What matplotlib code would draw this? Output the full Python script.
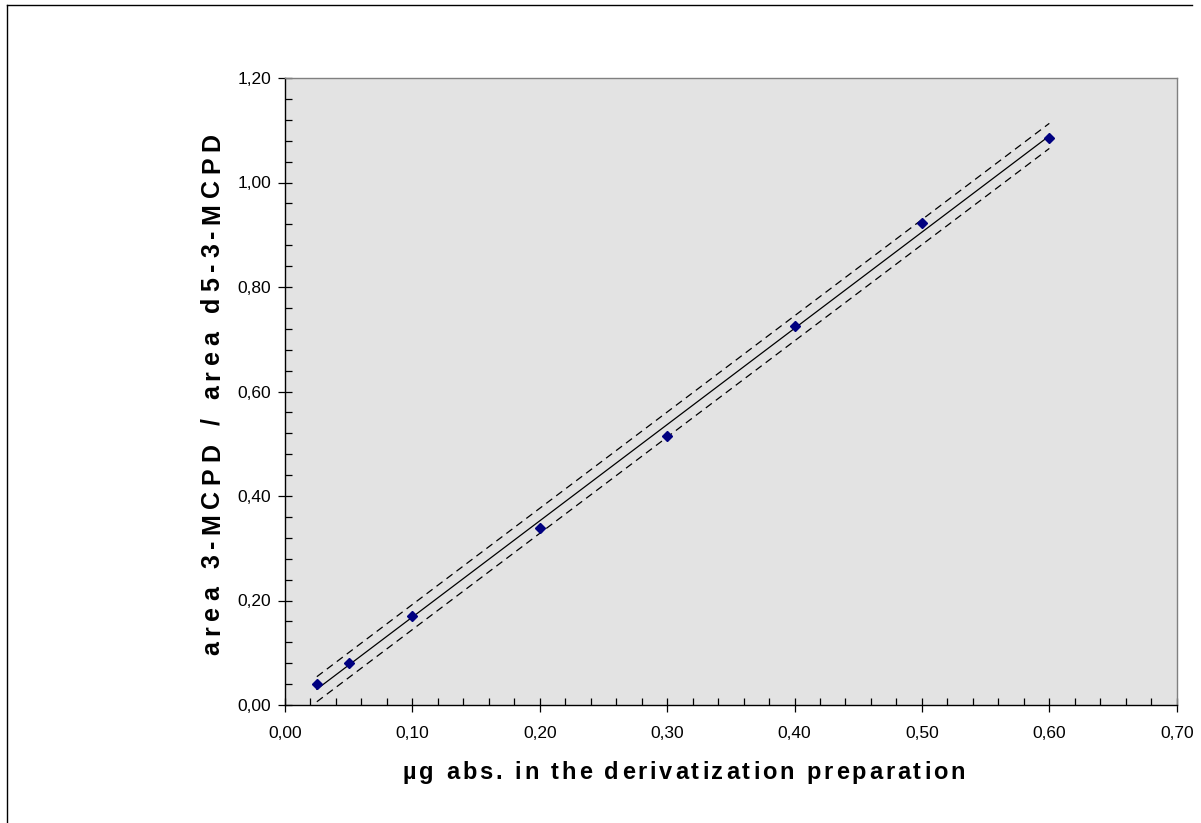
import numpy as np
import matplotlib
matplotlib.use("Agg")
import matplotlib.pyplot as plt
from matplotlib.ticker import MultipleLocator, FuncFormatter
from matplotlib.lines import Line2D
from matplotlib.font_manager import FontProperties

plt.rcParams['font.family'] = ['Liberation Sans', 'DejaVu Sans']

# calibration standards: amount in preparation vs. area ratio
amount_ug = [0.025, 0.05, 0.10, 0.20, 0.30, 0.40, 0.50, 0.60]
area_ratio = [0.040, 0.081, 0.171, 0.339, 0.514, 0.725, 0.923, 1.086]
band_half_width = 0.024  # half-width of the dashed interval around the fit

x_ticks = [0.00, 0.10, 0.20, 0.30, 0.40, 0.50, 0.60, 0.70]
y_ticks = [0.00, 0.20, 0.40, 0.60, 0.80, 1.00, 1.20]

x_label = "µg abs. in the derivatization preparation"
y_label = "area 3-MCPD / area d5-3-MCPD"

W, H = 1201, 823

# linear regression through the standards
x = np.asarray(amount_ug)
y = np.asarray(area_ratio)
slope, intercept = np.polyfit(x, y, 1)
xs = np.linspace(x.min(), x.max(), 200)
fit = slope * xs + intercept

fig = plt.figure(figsize=(W / 100, H / 100), dpi=100)
ax = fig.add_axes([285 / W, 1 - 705 / H, (1176.7 - 285) / W, (705 - 78) / H])
ax.set_facecolor('#e3e3e3')

ax.plot(xs, fit, color='black', lw=0.9, zorder=2)
for band in (fit + band_half_width, fit - band_half_width):
    ax.plot(xs, band, color='black', lw=0.9, dashes=(6, 4), zorder=2)
ax.plot(x, y, linestyle='none', marker='D', markersize=5,
        color='#000080', markeredgecolor='#000080', zorder=3)

ax.set_xlim(0, 0.70)
ax.set_ylim(0, 1.20)
ax.set_xticks(x_ticks)
ax.set_yticks(y_ticks)
ax.xaxis.set_minor_locator(MultipleLocator(0.02))
ax.yaxis.set_minor_locator(MultipleLocator(0.04))
fmt = FuncFormatter(lambda v, p: f"{v:.2f}".replace('.', ','))
ax.xaxis.set_major_formatter(fmt)
ax.yaxis.set_major_formatter(fmt)

ax.tick_params(which='major', direction='inout', length=10, width=0.9,
               labelsize=12.5, color='black')
ax.tick_params(which='minor', direction='in', length=5, width=0.9, color='black')
ax.tick_params(axis='x', which='major', pad=10)
ax.tick_params(axis='y', which='major', pad=5)

for side in ('left', 'bottom'):
    ax.spines[side].set_color('black')
    ax.spines[side].set_linewidth(1.0)
for side in ('top', 'right'):
    ax.spines[side].set_color('#808080')
    ax.spines[side].set_linewidth(1.0)


def tracked_label(text, anchor_px, length_px, size, vertical=False):
    """Bold label with even letter spacing, stretched to length_px.

    anchor_px: (start along the text direction, baseline position), in pixels
    from the top-left corner of the figure.
    """
    renderer = fig.canvas.get_renderer()
    fp = FontProperties(family=['Liberation Sans', 'DejaVu Sans'],
                        size=size, weight='bold')

    def width(t):
        probe = fig.text(0, 0, t + '|', fontproperties=fp)
        w = probe.get_window_extent(renderer).width
        probe.remove()
        return w

    bar = width('')
    prefix = [width(text[:i]) - bar for i in range(len(text) + 1)]
    gap = (length_px - prefix[-1]) / (len(text) - 1)
    start, base = anchor_px
    for i, ch in enumerate(text):
        if ch == ' ':
            continue
        off = prefix[i] + i * gap
        if vertical:
            fig.text(base / W, 1 - (start - off) / H, ch, fontproperties=fp,
                     rotation=90, rotation_mode='anchor',
                     ha='left', va='baseline')
        else:
            fig.text((start + off) / W, 1 - base / H, ch, fontproperties=fp,
                     ha='left', va='baseline')


tracked_label(x_label, (403, 779), 562, 17)
tracked_label(y_label, (655, 219), 522, 18, vertical=True)

# outer frame lines of the chart area
fig.add_artist(Line2D([7 / W, 1192 / W], [1 - 5 / H, 1 - 5 / H],
                      transform=fig.transFigure, color='black', lw=1.0))
fig.add_artist(Line2D([7 / W, 7 / W], [1 - 5 / H, 0],
                      transform=fig.transFigure, color='black', lw=1.0))

fig.savefig('out.png', dpi=100)
